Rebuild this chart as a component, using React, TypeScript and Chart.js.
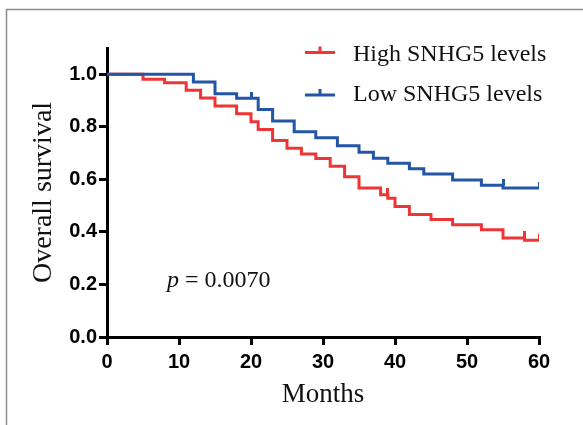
import React, { useEffect, useRef } from "react";
import { Chart, registerables } from "chart.js";

Chart.register(...registerables);

// Kaplan–Meier steps (months, survival)
const highMonths = [0, 5, 8, 11, 13, 15, 18, 20, 21, 23, 25, 27, 29, 31, 33, 35, 38, 39, 40, 42, 45, 48, 52, 55, 58, 60];
const highSurvival = [1, 0.981, 0.968, 0.939, 0.91, 0.879, 0.85, 0.819, 0.79, 0.748, 0.718, 0.697, 0.679, 0.65, 0.61, 0.567, 0.541, 0.528, 0.497, 0.466, 0.447, 0.427, 0.408, 0.377, 0.368, 0.368];
const highCensored = [39, 58, 60];

const lowMonths = [0, 12, 15, 18, 21, 23, 26, 29, 32, 35, 37, 39, 42, 44, 48, 52, 55, 60];
const lowSurvival = [1, 0.971, 0.926, 0.909, 0.866, 0.822, 0.781, 0.758, 0.728, 0.703, 0.68, 0.661, 0.64, 0.62, 0.598, 0.578, 0.567, 0.567];
const lowCensored = [20, 55, 60];

const xTicks = [0, 10, 20, 30, 40, 50, 60];
const yTicks = [0, 0.2, 0.4, 0.6, 0.8, 1.0];

const seriesNames = ["High SNHG5 levels", "Low SNHG5 levels"];
const pValueText = "0.0070";

const RED = "#EE3535";
const BLUE = "#2456A8";

function survivalBefore(T: number[], S: number[], t: number) {
  let v = S[0];
  for (let i = 0; i < T.length; i++) {
    if (T[i] < t) v = S[i];
  }
  return v;
}

function makeTick(color: string) {
  const c = document.createElement("canvas");
  c.width = 3;
  c.height = 13;
  const g = c.getContext("2d")!;
  g.fillStyle = color;
  g.fillRect(0, 0, 3, 7);
  return c;
}

const overlayPlugin = {
  id: "overlay",
  afterDraw(chart: any) {
    const ctx = chart.ctx as CanvasRenderingContext2D;
    ctx.save();
    // frame
    ctx.strokeStyle = "#8c8c8c";
    ctx.lineWidth = 1.5;
    ctx.strokeRect(6.5, 9.5, 700, 600);

    // legend
    const colors = [RED, BLUE];
    const rows = [52.5, 95];
    const textBase = [61, 101];
    ctx.font = "24px 'Liberation Serif'";
    ctx.textBaseline = "alphabetic";
    ctx.textAlign = "left";
    for (let i = 0; i < 2; i++) {
      ctx.strokeStyle = colors[i];
      ctx.lineWidth = 3;
      ctx.beginPath();
      ctx.moveTo(305, rows[i]);
      ctx.lineTo(335, rows[i]);
      ctx.moveTo(320, rows[i]);
      ctx.lineTo(320, rows[i] - 6);
      ctx.stroke();
      ctx.fillStyle = "#111";
      ctx.fillText(seriesNames[i], 353, textBase[i]);
    }

    // p value
    ctx.fillStyle = "#111";
    ctx.font = "italic 24px 'Liberation Serif'";
    ctx.fillText("p", 167, 287);
    const pw = ctx.measureText("p").width;
    ctx.font = "24px 'Liberation Serif'";
    ctx.fillText(" = " + pValueText, 167 + pw, 287);
    ctx.restore();
  },
};

export default function App() {
  const ref = useRef<HTMLCanvasElement | null>(null);
  useEffect(() => {
    if (!ref.current) return;
    const highData = highMonths.map((t, i) => ({ x: t, y: highSurvival[i] }));
    const lowData = lowMonths.map((t, i) => ({ x: t, y: lowSurvival[i] }));
    const highCens = highCensored.map((t) => ({ x: t, y: survivalBefore(highMonths, highSurvival, t) }));
    const lowCens = lowCensored.map((t) => ({ x: t, y: survivalBefore(lowMonths, lowSurvival, t) }));

    const chart = new Chart(ref.current, {
      type: "line",
      data: {
        datasets: [
          {
            label: seriesNames[1],
            data: lowData,
            borderColor: BLUE,
            borderWidth: 3,
            stepped: "before",
            pointRadius: 0,
            fill: false,
          },
          {
            label: seriesNames[0],
            data: highData,
            borderColor: RED,
            borderWidth: 3,
            stepped: "before",
            pointRadius: 0,
            fill: false,
          },
          {
            label: "low censored",
            data: lowCens,
            showLine: false,
            pointStyle: makeTick(BLUE) as any,
            pointRadius: 5,
          },
          {
            label: "high censored",
            data: highCens,
            showLine: false,
            pointStyle: makeTick(RED) as any,
            pointRadius: 5,
          },
        ] as any,
      },
      options: {
        responsive: false,
        animation: false,
        devicePixelRatio: 1,
        layout: { padding: { top: 48, right: 44, left: 0, bottom: 0 } },
        plugins: { legend: { display: false }, tooltip: { enabled: false } },
        scales: {
          x: {
            type: "linear",
            min: 0,
            max: 60,
            afterFit: (s: any) => {
              s.height = 88;
            },
            afterBuildTicks: (s: any) => {
              s.ticks = xTicks.map((v) => ({ value: v }));
            },
            ticks: {
              color: "#000",
              font: { family: "'Liberation Sans'", weight: "bold", size: 20 },
              padding: 5,
              maxRotation: 0,
            },
            grid: { drawOnChartArea: false, drawTicks: true, tickLength: 8, lineWidth: 3, color: "#000" },
            border: { display: true, width: 3, color: "#000" },
            title: {
              display: true,
              text: "Months",
              color: "#111",
              font: { family: "'Liberation Serif'", size: 27, lineHeight: 1 },
              padding: { top: 0, bottom: 16.5 },
            },
          },
          y: {
            type: "linear",
            min: 0,
            max: 1.1,
            afterFit: (s: any) => {
              s.width = 107;
            },
            afterBuildTicks: (s: any) => {
              s.ticks = yTicks.map((v) => ({ value: v }));
            },
            ticks: {
              color: "#000",
              font: { family: "'Liberation Sans'", weight: "bold", size: 20 },
              padding: 2,
              callback: (v: any) => Number(v).toFixed(1),
            },
            grid: { drawOnChartArea: false, drawTicks: true, tickLength: 8, lineWidth: 3, color: "#000" },
            border: { display: true, width: 3, color: "#000" },
            title: {
              display: true,
              text: "Overall survival",
              color: "#111",
              font: { family: "'Liberation Serif'", size: 28, lineHeight: 1 },
              padding: { top: 29.5, bottom: 0 },
            },
          },
        },
      } as any,
      plugins: [overlayPlugin],
    });
    return () => chart.destroy();
  }, []);

  return (
    <div style={{ position: "absolute", left: 0, top: 0, width: 583, height: 425, background: "#fff" }}>
      <canvas ref={ref} width={583} height={425} style={{ display: "block" }} />
    </div>
  );
}
